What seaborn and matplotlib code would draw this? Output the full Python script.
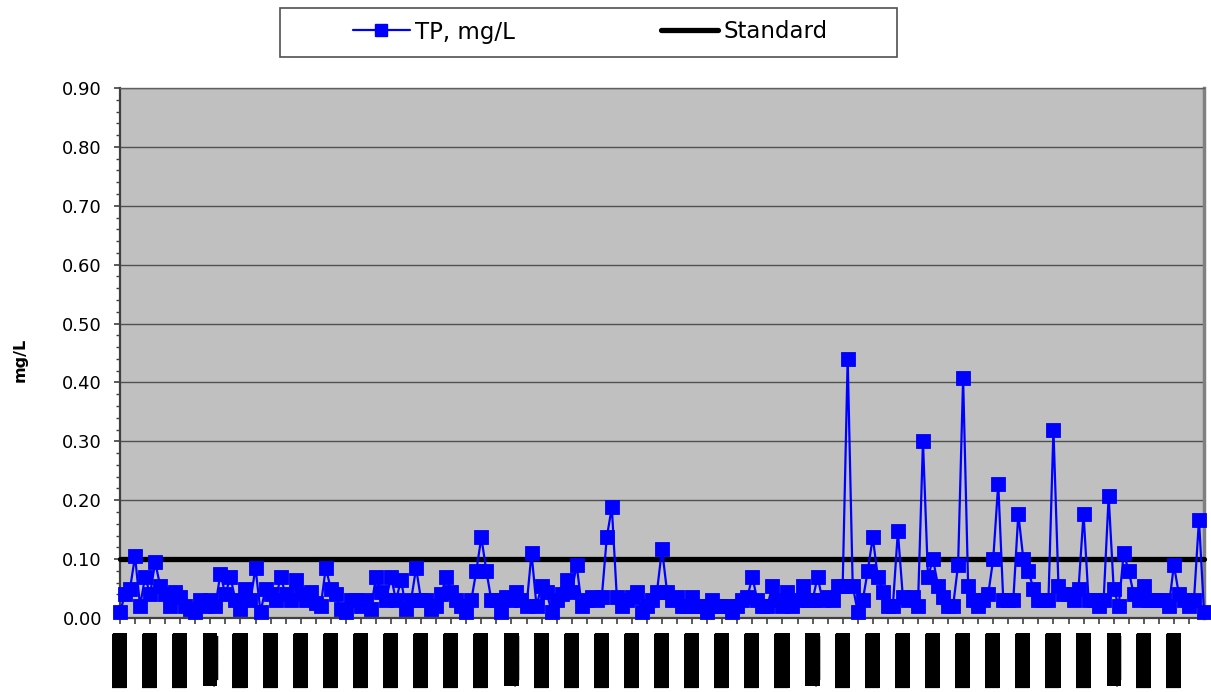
import matplotlib
matplotlib.use("Agg")
import matplotlib.pyplot as plt
from matplotlib.lines import Line2D
from matplotlib.patches import Rectangle
from matplotlib.ticker import MultipleLocator, FormatStrFormatter
import pandas as pd
import seaborn as sns

# Total phosphorus per sample (mg/L), in sampling order
tp_values = [
    0.01, 0.04, 0.05, 0.105, 0.02, 0.07, 0.04, 0.095, 0.055, 0.04,
    0.02, 0.045, 0.035, 0.02, 0.015, 0.01, 0.03, 0.02, 0.03, 0.02,
    0.075, 0.04, 0.07, 0.03, 0.015, 0.05, 0.03, 0.085, 0.01, 0.05,
    0.04, 0.03, 0.07, 0.04, 0.03, 0.065, 0.04, 0.03, 0.045, 0.025,
    0.02, 0.085, 0.05, 0.04, 0.015, 0.01, 0.03, 0.03, 0.02, 0.03,
    0.015, 0.07, 0.045, 0.03, 0.07, 0.03, 0.065, 0.015, 0.03, 0.085,
    0.03, 0.03, 0.015, 0.02, 0.04, 0.07, 0.045, 0.03, 0.02, 0.01,
    0.03, 0.08, 0.137, 0.08, 0.03, 0.03, 0.01, 0.035, 0.03, 0.045,
    0.03, 0.02, 0.11, 0.02, 0.055, 0.045, 0.01, 0.03, 0.04, 0.065,
    0.045, 0.09, 0.02, 0.03, 0.035, 0.03, 0.035, 0.137, 0.188, 0.035,
    0.02, 0.03, 0.035, 0.045, 0.01, 0.02, 0.03, 0.045, 0.117, 0.045,
    0.03, 0.035, 0.02, 0.02, 0.035, 0.02, 0.02, 0.01, 0.03, 0.02,
    0.02, 0.02, 0.01, 0.02, 0.03, 0.035, 0.07, 0.03, 0.02, 0.02,
    0.055, 0.03, 0.02, 0.045, 0.02, 0.03, 0.055, 0.03, 0.03, 0.07,
    0.03, 0.035, 0.03, 0.055, 0.055, 0.44, 0.055, 0.01, 0.03, 0.08,
    0.137, 0.07, 0.045, 0.02, 0.02, 0.147, 0.035, 0.03, 0.035, 0.02,
    0.30, 0.07, 0.10, 0.055, 0.035, 0.02, 0.02, 0.09, 0.407, 0.055,
    0.03, 0.02, 0.03, 0.04, 0.10, 0.228, 0.03, 0.03, 0.03, 0.177,
    0.10, 0.08, 0.05, 0.03, 0.03, 0.03, 0.32, 0.055, 0.04, 0.04,
    0.03, 0.05, 0.177, 0.03, 0.03, 0.02, 0.03, 0.207, 0.05, 0.02,
    0.11, 0.08, 0.04, 0.03, 0.055, 0.03, 0.03, 0.03, 0.03, 0.02,
    0.09, 0.04, 0.03, 0.02, 0.03, 0.167, 0.01,
]

# Water-quality standard (mg/L)
standard_value = 0.10

# Category labels, one every sixth sample
LONG = "\u2588" * 5
SHORT = ".." + "\u2588" * 4
sample_labels = [
    LONG, LONG, LONG, SHORT, LONG, LONG, LONG, LONG, LONG, LONG,
    LONG, LONG, LONG, SHORT, LONG, LONG, LONG, LONG, LONG, LONG,
    LONG, LONG, LONG, SHORT, LONG, LONG, LONG, LONG, LONG, LONG,
    LONG, LONG, LONG, SHORT, LONG, LONG,
]

series_names = ["TP, mg/L", "Standard"]

n = len(tp_values)
df = pd.DataFrame({
    "sample": list(range(n)),
    series_names[0]: tp_values,
    series_names[1]: [standard_value] * n,
})

sns.set_theme(style="white")
plt.rcParams["font.family"] = ["DejaVu Sans"]
plt.rcParams["text.color"] = "black"
plt.rcParams["xtick.labelcolor"] = "black"
plt.rcParams["ytick.labelcolor"] = "black"

W, H = 1211, 692
fig = plt.figure(figsize=(W / 100, H / 100), dpi=100)
fig.patch.set_facecolor("white")
ax = fig.add_axes([120 / W, 74 / H, (1204 - 120) / W, 530 / H])
ax.set_facecolor("#C0C0C0")

sns.lineplot(data=df, x="sample", y=series_names[1], ax=ax, color="black",
             lw=3.8, solid_capstyle="round", clip_on=False, zorder=3)
sns.lineplot(data=df, x="sample", y=series_names[0], ax=ax, color="#0000FF",
             lw=1.6, marker="s", markersize=9.5, markeredgecolor="#0000FF",
             markeredgewidth=0.6, clip_on=False, zorder=4)

ax.set_xlim(0, n - 1)
ax.set_ylim(0, 0.9)

# y axis: major every 0.1 with grid, minor every 0.02
ax.yaxis.set_major_locator(MultipleLocator(0.1))
ax.yaxis.set_minor_locator(MultipleLocator(0.02))
ax.yaxis.set_major_formatter(FormatStrFormatter("%.2f"))
ax.yaxis.grid(True, which="major", color="#505050", lw=1.0)
ax.xaxis.grid(False)
ax.set_axisbelow(True)

# x axis: tick every third sample, label every sixth
ax.set_xticks(list(range(0, n - 1, 6)))
ax.set_xticks(list(range(3, n - 1, 6)), minor=True)
ax.set_xticklabels(sample_labels, rotation=90, fontsize=10.3,
                   va="top", ha="center", color="black")
for lbl in ax.get_xticklabels():
    lbl.set_bbox(dict(boxstyle="square,pad=0", facecolor="black",
                      edgecolor="none"))
ax.tick_params(axis="x", which="both", direction="out", length=4,
               width=1.2, color="#404040", pad=7, bottom=True)
ax.tick_params(axis="y", which="major", direction="out", length=4,
               width=1.2, color="#404040", pad=9, labelsize=13, left=True)
ax.tick_params(axis="y", which="minor", direction="out", length=3,
               width=1.0, color="#404040", left=True)

for side in ("left", "bottom"):
    ax.spines[side].set_color("#404040")
    ax.spines[side].set_linewidth(1.6)
ax.spines["right"].set_color("#808080")
ax.spines["right"].set_linewidth(2.5)
ax.spines["top"].set_color("#606060")
ax.spines["top"].set_linewidth(1.0)

ax.set_xlabel("")
ax.set_ylabel("")
fig.text(20 / W, 1 - 360 / H, "mg/L", rotation=90, fontsize=11.5,
         fontweight="bold", ha="center", va="center", color="black")

# Legend box across the top
fig.patches.append(Rectangle((280 / W, (H - 57) / H), 617 / W, 49 / H,
                             transform=fig.transFigure, facecolor="white",
                             edgecolor="#505050", lw=1.2, zorder=0))
handles = [
    Line2D([], [], color="#0000FF", lw=1.6, marker="s", markersize=9,
           markeredgecolor="#0000FF"),
    Line2D([], [], color="black", lw=3.8),
]
fig.legend(handles, series_names, loc="center", ncol=2,
           bbox_to_anchor=(590 / W, 1 - 32 / H), frameon=False,
           fontsize=16.5, handlelength=2.5, handletextpad=0.2,
           columnspacing=6.4)

fig.savefig("out.png", dpi=100, facecolor="white")
